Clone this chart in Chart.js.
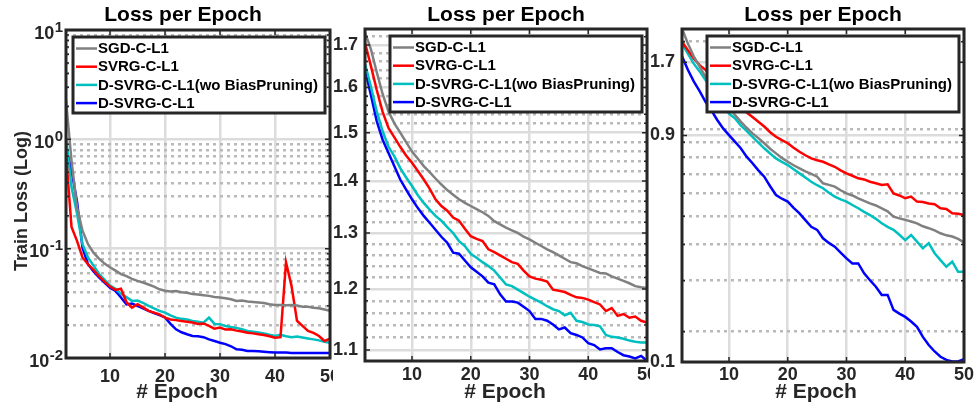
<!DOCTYPE html>
<html>
<head>
<meta charset="utf-8">
<script src="https://cdn.jsdelivr.net/npm/chart.js@4.4.1/dist/chart.umd.min.js"></script>
<style>
  html, body { margin: 0; padding: 0; background: #fff; }
  body { width: 976px; height: 404px; position: relative; overflow: hidden; }
  canvas { position: absolute; top: 0; }
</style>
</head>
<body>
<canvas id="c1" width="360" height="404" style="left:0px"></canvas>
<canvas id="c2" width="340" height="404" style="left:333px"></canvas>
<canvas id="c3" width="326" height="404" style="left:650px"></canvas>
<script>
const epochs = [2, 3, 4, 5, 6, 7, 8, 9, 10, 11, 12, 13, 14, 15, 16, 17, 18, 19, 20, 21, 22, 23, 24, 25, 26,
  27, 28, 29, 30, 31, 32, 33, 34, 35, 36, 37, 38, 39, 40, 41, 42, 43, 44, 45, 46, 47, 48, 49, 50]
const names = ['SGD-C-L1', 'SVRG-C-L1', 'D-SVRG-C-L1(wo BiasPruning)', 'D-SVRG-C-L1']
const colors = ['#808080', '#ff0000', '#00bfbf', '#0000ff']
const xTicks = [10, 20, 30, 40, 50]

// left panel
const sgdA = [2.28, 0.64, 0.24, 0.146, 0.11, 0.092, 0.081, 0.073, 0.0676, 0.063,
  0.0586, 0.056, 0.053, 0.0508, 0.049, 0.047, 0.045, 0.0425, 0.0412, 0.0405,
  0.041, 0.040, 0.0395, 0.0384, 0.038, 0.0375, 0.037, 0.0362, 0.0358, 0.0352,
  0.0345, 0.0333, 0.0335, 0.0328, 0.0325, 0.0322, 0.0318, 0.031, 0.0306, 0.0305,
  0.0304, 0.0305, 0.0302, 0.0295, 0.0294, 0.0288, 0.0285, 0.0278, 0.027]
const svrgA = [0.74, 0.158, 0.118, 0.083, 0.072, 0.064, 0.056, 0.05, 0.045, 0.042,
  0.043, 0.0324, 0.0289, 0.031, 0.029, 0.027, 0.026, 0.025, 0.0234, 0.0225,
  0.0222, 0.0218, 0.0215, 0.0211, 0.0205, 0.0207, 0.0197, 0.0185, 0.019, 0.0182,
  0.0183, 0.0178, 0.0175, 0.017, 0.0168, 0.0165, 0.0162, 0.0158, 0.0153, 0.0155,
  0.075, 0.0457, 0.0219, 0.0197, 0.0177, 0.017, 0.0159, 0.0143, 0.015]
const woA = [1.05, 0.366, 0.21, 0.11, 0.083, 0.07, 0.059, 0.052, 0.046, 0.043,
  0.0384, 0.036, 0.0333, 0.0335, 0.032, 0.030, 0.0285, 0.027, 0.026, 0.0245,
  0.0234, 0.0228, 0.0225, 0.0218, 0.0215, 0.021, 0.0234, 0.0205, 0.0204, 0.0196,
  0.0192, 0.0188, 0.0183, 0.0177, 0.0174, 0.0171, 0.0168, 0.0163, 0.0159, 0.0163,
  0.0158, 0.0155, 0.0157, 0.0154, 0.0151, 0.0148, 0.0145, 0.0141, 0.0138]
const dsvrgA = [0.85, 0.52, 0.27, 0.102, 0.072, 0.062, 0.0545, 0.049, 0.044, 0.041,
  0.0358, 0.0309, 0.0315, 0.030, 0.0285, 0.027, 0.0258, 0.0247, 0.0235, 0.0205,
  0.0183, 0.0172, 0.0165, 0.0159, 0.0158, 0.0155, 0.0148, 0.0143, 0.0138, 0.0134,
  0.0128, 0.012, 0.0119, 0.0116, 0.0116, 0.0115, 0.0114, 0.0113, 0.0112, 0.0112,
  0.0112, 0.0111, 0.0111, 0.0111, 0.0111, 0.0111, 0.0111, 0.0111, 0.0111]
const yTicksA = [0.01, 0.02, 0.03, 0.04, 0.05, 0.06, 0.07, 0.08, 0.09, 0.1, 0.2, 0.3, 0.4, 0.5, 0.6, 0.7, 0.8, 0.9,
  1, 2, 3, 4, 5, 6, 7, 8, 9, 10]
const yMajorA = [0.01, 0.1, 1, 10]
const yExpA = ['-2', '-1', '0', '1']   // shown as 10^exp

// middle panel
const sgdB = [1.73, 1.69, 1.635, 1.585, 1.546, 1.52, 1.50, 1.48, 1.46, 1.445,
  1.43, 1.418, 1.405, 1.393, 1.382, 1.373, 1.364, 1.357, 1.351, 1.345,
  1.339, 1.332, 1.322, 1.316, 1.310, 1.305, 1.300, 1.293, 1.288, 1.282,
  1.276, 1.270, 1.265, 1.259, 1.253, 1.247, 1.245, 1.240, 1.236, 1.232,
  1.228, 1.227, 1.222, 1.218, 1.214, 1.210, 1.205, 1.203, 1.202]
const svrgB = [1.705, 1.65, 1.594, 1.545, 1.51, 1.49, 1.47, 1.452, 1.437, 1.42,
  1.403, 1.385, 1.364, 1.351, 1.342, 1.329, 1.323, 1.308, 1.294, 1.289,
  1.285, 1.270, 1.265, 1.259, 1.253, 1.247, 1.244, 1.232, 1.222, 1.218,
  1.216, 1.213, 1.199, 1.197, 1.195, 1.190, 1.186, 1.185, 1.182, 1.178,
  1.174, 1.163, 1.168, 1.155, 1.158, 1.152, 1.154, 1.147, 1.144]
const woB = [1.655, 1.602, 1.546, 1.503, 1.47, 1.45, 1.426, 1.407, 1.39, 1.372,
  1.357, 1.344, 1.332, 1.323, 1.311, 1.30, 1.285, 1.276, 1.262, 1.255,
  1.247, 1.240, 1.232, 1.22, 1.208, 1.205, 1.199, 1.193, 1.187, 1.182,
  1.177, 1.171, 1.166, 1.163, 1.156, 1.16, 1.147, 1.145, 1.141, 1.140,
  1.138, 1.124, 1.121, 1.120, 1.118, 1.115, 1.113, 1.112, 1.112]
const dsvrgB = [1.641, 1.583, 1.525, 1.485, 1.457, 1.43, 1.403, 1.383, 1.364, 1.347,
  1.332, 1.319, 1.306, 1.293, 1.282, 1.264, 1.262, 1.250, 1.238, 1.230,
  1.222, 1.211, 1.208, 1.191, 1.179, 1.179, 1.177, 1.170, 1.163, 1.150,
  1.150, 1.147, 1.141, 1.133, 1.136, 1.127, 1.124, 1.120, 1.111, 1.108,
  1.101, 1.103, 1.103, 1.097, 1.092, 1.090, 1.087, 1.091, 1.083]
const yTicksB = [1.1, 1.12, 1.14, 1.16, 1.18, 1.2, 1.22, 1.24, 1.26, 1.28, 1.3, 1.32, 1.34, 1.36, 1.38,
  1.4, 1.42, 1.44, 1.46, 1.48, 1.5, 1.52, 1.54, 1.56, 1.58, 1.6, 1.62, 1.64, 1.66, 1.68, 1.7, 1.72]
const yMajorB = [1.1, 1.2, 1.3, 1.4, 1.5, 1.6, 1.7]
const yLabelsB = ['1.1', '1.2', '1.3', '1.4', '1.5', '1.6', '1.7']

// right panel
const sgdC = [2.22, 1.97, 1.78, 1.64, 1.515, 1.43, 1.36, 1.27, 1.19, 1.12,
  1.06, 1.01, 0.966, 0.93, 0.893, 0.855, 0.824, 0.795, 0.771, 0.75,
  0.732, 0.715, 0.70, 0.685, 0.65, 0.642, 0.633, 0.615, 0.60, 0.59,
  0.577, 0.565, 0.554, 0.545, 0.533, 0.52, 0.499, 0.492, 0.486, 0.48,
  0.473, 0.462, 0.455, 0.447, 0.437, 0.43, 0.426, 0.418, 0.406]
const svrgC = [2.0, 1.87, 1.75, 1.66, 1.60, 1.52, 1.44, 1.37, 1.31, 1.25,
  1.19, 1.14, 1.10, 1.06, 1.02, 0.975, 0.94, 0.915, 0.893, 0.862,
  0.835, 0.812, 0.792, 0.78, 0.771, 0.755, 0.741, 0.72, 0.703, 0.69,
  0.676, 0.67, 0.658, 0.65, 0.641, 0.645, 0.60, 0.59, 0.577, 0.585,
  0.562, 0.56, 0.554, 0.55, 0.533, 0.53, 0.512, 0.51, 0.505]
const woC = [1.97, 1.82, 1.68, 1.58, 1.475, 1.38, 1.29, 1.21, 1.13, 1.09,
  1.03, 0.985, 0.94, 0.898, 0.858, 0.823, 0.792, 0.77, 0.751, 0.726,
  0.703, 0.68, 0.658, 0.64, 0.625, 0.603, 0.585, 0.572, 0.562, 0.547,
  0.533, 0.518, 0.505, 0.49, 0.473, 0.46, 0.449, 0.432, 0.414, 0.431,
  0.409, 0.388, 0.404, 0.373, 0.353, 0.335, 0.349, 0.322, 0.322]
const dsvrgC = [1.78, 1.6, 1.46, 1.35, 1.24, 1.16, 1.074, 1.005, 0.953, 0.905,
  0.858, 0.803, 0.762, 0.72, 0.685, 0.635, 0.592, 0.575, 0.562, 0.535,
  0.512, 0.485, 0.46, 0.449, 0.42, 0.405, 0.393, 0.375, 0.358, 0.344,
  0.344, 0.318, 0.301, 0.286, 0.268, 0.268, 0.238, 0.231, 0.225, 0.217,
  0.208, 0.192, 0.18, 0.171, 0.164, 0.16, 0.158, 0.158, 0.161]
const yTicksC = [0.1573, 0.2, 0.3, 0.4, 0.5, 0.6, 0.7, 0.8, 0.9, 0.95, 1, 1.7, 2]
const yMajorC = [0.1573, 0.95, 1.7]
const yLabelsC = ['0.1', '0.9', '1.7']

const FONT = '"Liberation Sans", Arial, Helvetica, sans-serif'
const INK = '#262626'
Chart.defaults.font.family = FONT
Chart.defaults.font.weight = 'bold'
Chart.defaults.color = INK

const near = (a, b) => Math.abs(a - b) < 1e-9
const isMajor = (p, v) => p.major.some(m => near(m, v))

function framePlugin(p) {
  return {
    id: 'frame',
    beforeDraw(chart) {
      const ctx = chart.ctx
      ctx.save()
      ctx.fillStyle = '#fff'
      ctx.fillRect(0, 0, chart.width, chart.height)
      ctx.restore()
    },
    afterDatasetsDraw(chart) {
      const { ctx, chartArea: a, scales: { x, y } } = chart
      ctx.save()
      ctx.strokeStyle = INK
      ctx.lineWidth = 1.5
      ctx.beginPath()
      x.ticks.forEach(t => {
        const px = x.getPixelForValue(t.value)
        ctx.moveTo(px, a.bottom); ctx.lineTo(px, a.bottom - 5)
        ctx.moveTo(px, a.top); ctx.lineTo(px, a.top + 5)
      })
      y.ticks.forEach(t => {
        const py = y.getPixelForValue(t.value)
        const len = isMajor(p, t.value) ? 5 : 3
        ctx.moveTo(a.left, py); ctx.lineTo(a.left + len, py)
        ctx.moveTo(a.right, py); ctx.lineTo(a.right - len, py)
      })
      ctx.stroke()
      ctx.lineWidth = 3
      ctx.strokeRect(a.left, a.top, a.right - a.left, a.bottom - a.top)

      // legend box
      const w = 252, h = 76
      const bx = a.right - 5 - w, by = a.top + 7
      ctx.fillStyle = '#fff'
      ctx.fillRect(bx, by, w, h)
      ctx.strokeRect(bx, by, w, h)
      ctx.font = 'bold 15px ' + FONT
      ctx.textBaseline = 'middle'
      ctx.textAlign = 'left'
      chart.data.datasets.forEach((ds, i) => {
        const ry = by + 11.5 + i * 18.2
        ctx.strokeStyle = ds.borderColor
        ctx.lineWidth = 2.5
        ctx.beginPath()
        ctx.moveTo(bx + 3, ry); ctx.lineTo(bx + 24, ry)
        ctx.stroke()
        ctx.fillStyle = '#000'
        ctx.fillText(ds.label, bx + 25, ry + 0.5)
      })
      ctx.restore()
    },
    afterDraw(chart) {
      const { ctx, chartArea: a, scales: { y } } = chart
      const cx = (a.left + a.right) / 2
      ctx.save()
      ctx.fillStyle = '#000'
      ctx.textAlign = 'center'
      ctx.textBaseline = 'alphabetic'
      ctx.font = 'bold 21px ' + FONT
      ctx.fillText('Loss per Epoch', cx + p.titleDx, 21)
      ctx.fillStyle = INK
      ctx.fillText('# Epoch', cx + p.xTitleDx, 398)

      // power-of-ten tick labels with a real superscript
      if (p.exps) {
        ctx.textAlign = 'right'
        p.major.forEach((m, i) => {
          const py = y.getPixelForValue(m)
          const xr = a.left - 3
          ctx.font = 'bold 15px ' + FONT
          const we = ctx.measureText(p.exps[i]).width
          ctx.fillText(p.exps[i], xr, py + 1.5)
          ctx.font = 'bold 18px ' + FONT
          ctx.fillText('10', xr - we - 0.5, py + 8.5)
        })
      }
      if (p.yTitle) {
        ctx.textAlign = 'center'
        ctx.translate(27, 201)
        ctx.rotate(-Math.PI / 2)
        ctx.font = 'bold 18px ' + FONT
        ctx.fillText(p.yTitle, 0, 0)
      }
      ctx.restore()
    }
  }
}

function panel(id, p) {
  new Chart(document.getElementById(id), {
    type: 'line',
    data: {
      datasets: p.series.map((s, i) => ({
        label: names[i],
        data: s.map((v, k) => ({ x: epochs[k], y: v })),
        borderColor: colors[i],
        borderWidth: 2.5,
        pointRadius: 0,
        tension: 0,
        fill: false
      }))
    },
    options: {
      responsive: false,
      animation: false,
      layout: { padding: { left: 0, top: p.top, right: p.right, bottom: 0 } },
      plugins: { legend: { display: false }, title: { display: false }, tooltip: { enabled: false } },
      scales: {
        x: {
          type: 'linear', min: 2, max: 50,
          afterBuildTicks: s => { s.ticks = xTicks.map(v => ({ value: v })) },
          afterFit: s => { s.height = p.xh },
          grid: { color: '#dcdcdc', lineWidth: 2.5, drawTicks: false },
          border: { display: false },
          ticks: { autoSkip: false, maxRotation: 0, padding: p.xpad, color: INK, font: { size: 18, weight: 'bold' } }
        },
        y: {
          type: 'logarithmic', min: p.min, max: p.max,
          afterBuildTicks: s => { s.ticks = p.ticks.map(v => ({ value: v })) },
          afterFit: s => { s.width = p.yw },
          grid: {
            color: c => (c.tick && isMajor(p, c.tick.value)) ? '#dcdcdc' : '#b9b9b9',
            lineWidth: 2.5,
            drawTicks: false
          },
          border: { display: false, dash: c => (c.tick && isMajor(p, c.tick.value)) ? [] : [3, 4] },
          ticks: {
            autoSkip: false, padding: p.ypad, color: INK, font: { size: 18, weight: 'bold' },
            callback: v => {
              if (!p.labels) return ''
              const k = p.major.findIndex(m => near(m, v))
              return k >= 0 ? p.labels[k] : ''
            }
          }
        }
      }
    },
    plugins: [framePlugin(p)]
  })
}

panel('c1', {
  series: [sgdA, svrgA, woA, dsvrgA], min: 0.01, max: 10,
  ticks: yTicksA, major: yMajorA, exps: yExpA,
  top: 30, right: 30, xh: 46, yw: 66, xpad: 8, ypad: 3,
  titleDx: -15, xTitleDx: -21, yTitle: 'Train Loss (Log)'
})
panel('c2', {
  series: [sgdB, svrgB, woB, dsvrgB], min: 1.083, max: 1.739,
  ticks: yTicksB, major: yMajorB, labels: yLabelsB,
  top: 29, right: 26, xh: 43, yw: 32, xpad: 3, ypad: 7,
  titleDx: 0, xTitleDx: -1
})
panel('c3', {
  series: [sgdC, svrgC, woC, dsvrgC], min: 0.1573, max: 2.212,
  ticks: yTicksC, major: yMajorC, labels: yLabelsC,
  top: 29, right: 11, xh: 42, yw: 32, xpad: 2, ypad: 7,
  titleDx: 0, xTitleDx: -7
})
</script>
</body>
</html>
